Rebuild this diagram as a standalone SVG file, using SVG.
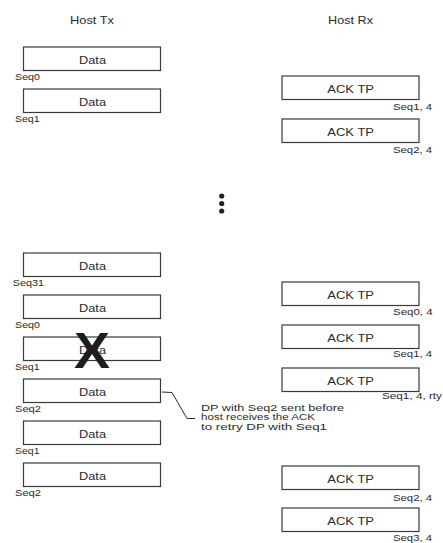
<svg xmlns="http://www.w3.org/2000/svg" width="443" height="543" viewBox="0 0 443 543">
<style>
text{font-family:"Liberation Sans",Arial,sans-serif;fill:#2a2a2a}
.box{fill:#fff;stroke:#3a3a3a;stroke-width:1.2}
.hd{font-size:10.6px}
.lbl{font-size:10.7px}
.seq{font-size:9px}
.seqr{font-size:9.5px}
.ann{font-size:9.2px}
.ld{fill:none;stroke:#2a2a2a;stroke-width:1}
</style>
<rect width="443" height="543" fill="#fff"/>
<g id="headers">
<text class="hd" x="70" y="24" textLength="44" lengthAdjust="spacingAndGlyphs">Host Tx</text>
<text class="hd" x="328" y="24" textLength="45" lengthAdjust="spacingAndGlyphs">Host Rx</text>
</g>
<g id="tx1"><rect class="box" x="23.5" y="47" width="137" height="23.5"/><text class="lbl" x="79" y="63.5" textLength="27" lengthAdjust="spacingAndGlyphs">Data</text><text class="seq" x="15" y="79.5" textLength="25" lengthAdjust="spacingAndGlyphs">Seq0</text></g>
<g id="tx2"><rect class="box" x="23.5" y="89" width="137" height="23.5"/><text class="lbl" x="79" y="105.5" textLength="27" lengthAdjust="spacingAndGlyphs">Data</text><text class="seq" x="15" y="122" textLength="24.5" lengthAdjust="spacingAndGlyphs">Seq1</text></g>
<g id="tx3"><rect class="box" x="23.5" y="253" width="137" height="23.5"/><text class="lbl" x="79" y="269.5" textLength="27" lengthAdjust="spacingAndGlyphs">Data</text><text class="seq" x="12.7" y="285.5" textLength="31.3" lengthAdjust="spacingAndGlyphs">Seq31</text></g>
<g id="tx4"><rect class="box" x="23.5" y="295" width="137" height="23.5"/><text class="lbl" x="79" y="311.5" textLength="27" lengthAdjust="spacingAndGlyphs">Data</text><text class="seq" x="15" y="327.5" textLength="25" lengthAdjust="spacingAndGlyphs">Seq0</text></g>
<g id="tx5"><rect class="box" x="23.5" y="337" width="137" height="23.5"/><text class="lbl" x="79" y="353.5" textLength="27" lengthAdjust="spacingAndGlyphs">Data</text><text class="seq" x="15" y="370" textLength="24.5" lengthAdjust="spacingAndGlyphs">Seq1</text></g>
<g id="tx6"><rect class="box" x="23.5" y="379" width="137" height="23.5"/><text class="lbl" x="79" y="395.5" textLength="27" lengthAdjust="spacingAndGlyphs">Data</text><text class="seq" x="15" y="412" textLength="26" lengthAdjust="spacingAndGlyphs">Seq2</text></g>
<g id="tx7"><rect class="box" x="23.5" y="421" width="137" height="23.5"/><text class="lbl" x="79" y="437.5" textLength="27" lengthAdjust="spacingAndGlyphs">Data</text><text class="seq" x="15" y="453.5" textLength="24.5" lengthAdjust="spacingAndGlyphs">Seq1</text></g>
<g id="tx8"><rect class="box" x="23.5" y="463" width="137" height="23.5"/><text class="lbl" x="79" y="479.5" textLength="27" lengthAdjust="spacingAndGlyphs">Data</text><text class="seq" x="15" y="495.5" textLength="26" lengthAdjust="spacingAndGlyphs">Seq2</text></g>
<g id="rx1"><rect class="box" x="282" y="76" width="137" height="23.5"/><text class="lbl" x="327.3" y="93" textLength="46.7" lengthAdjust="spacingAndGlyphs">ACK TP</text><text class="seqr" x="393" y="110" textLength="39" lengthAdjust="spacingAndGlyphs">Seq1, 4</text></g>
<g id="rx2"><rect class="box" x="282" y="119" width="137" height="23.5"/><text class="lbl" x="327.3" y="136" textLength="46.7" lengthAdjust="spacingAndGlyphs">ACK TP</text><text class="seqr" x="393" y="152.5" textLength="39" lengthAdjust="spacingAndGlyphs">Seq2, 4</text></g>
<g id="rx3"><rect class="box" x="282" y="282" width="137" height="23.5"/><text class="lbl" x="327.3" y="299" textLength="46.7" lengthAdjust="spacingAndGlyphs">ACK TP</text><text class="seqr" x="393" y="314.5" textLength="39.5" lengthAdjust="spacingAndGlyphs">Seq0, 4</text></g>
<g id="rx4"><rect class="box" x="282" y="325" width="137" height="23.5"/><text class="lbl" x="327.3" y="342" textLength="46.7" lengthAdjust="spacingAndGlyphs">ACK TP</text><text class="seqr" x="393" y="357" textLength="39" lengthAdjust="spacingAndGlyphs">Seq1, 4</text></g>
<g id="rx5"><rect class="box" x="282" y="368" width="137" height="23.5"/><text class="lbl" x="327.3" y="385" textLength="46.7" lengthAdjust="spacingAndGlyphs">ACK TP</text><text class="seqr" x="382" y="399" textLength="60" lengthAdjust="spacingAndGlyphs">Seq1, 4, rty</text></g>
<g id="rx6"><rect class="box" x="282" y="466" width="137" height="23.5"/><text class="lbl" x="327.3" y="483" textLength="46.7" lengthAdjust="spacingAndGlyphs">ACK TP</text><text class="seqr" x="393" y="501" textLength="39" lengthAdjust="spacingAndGlyphs">Seq2, 4</text></g>
<g id="rx7"><rect class="box" x="282" y="508" width="137" height="23.5"/><text class="lbl" x="327.3" y="525" textLength="46.7" lengthAdjust="spacingAndGlyphs">ACK TP</text><text class="seqr" x="393" y="541" textLength="39" lengthAdjust="spacingAndGlyphs">Seq3, 4</text></g>
<g id="ellipsis" fill="#222"><circle cx="221.7" cy="196" r="2.6"/><circle cx="221.7" cy="203.5" r="2.6"/><circle cx="221.7" cy="211" r="2.6"/></g>
<g id="lost-mark"><text x="74" y="368" font-size="50" font-weight="bold" textLength="36" lengthAdjust="spacingAndGlyphs" style="fill:#1e1e1e">X</text></g>
<g id="note">
<text class="ann" x="201" y="410.5" textLength="143" lengthAdjust="spacingAndGlyphs">DP with Seq2 sent before</text>
<text class="ann" x="201" y="420" textLength="114" lengthAdjust="spacingAndGlyphs">host receives the ACK</text>
<text class="ann" x="201" y="429.5" textLength="126" lengthAdjust="spacingAndGlyphs">to retry DP with Seq1</text>
</g>
<g id="connectors">
<polyline class="ld" points="162,392 172,392.5 187,418.5 195,418.5"/>
</g>
</svg>
